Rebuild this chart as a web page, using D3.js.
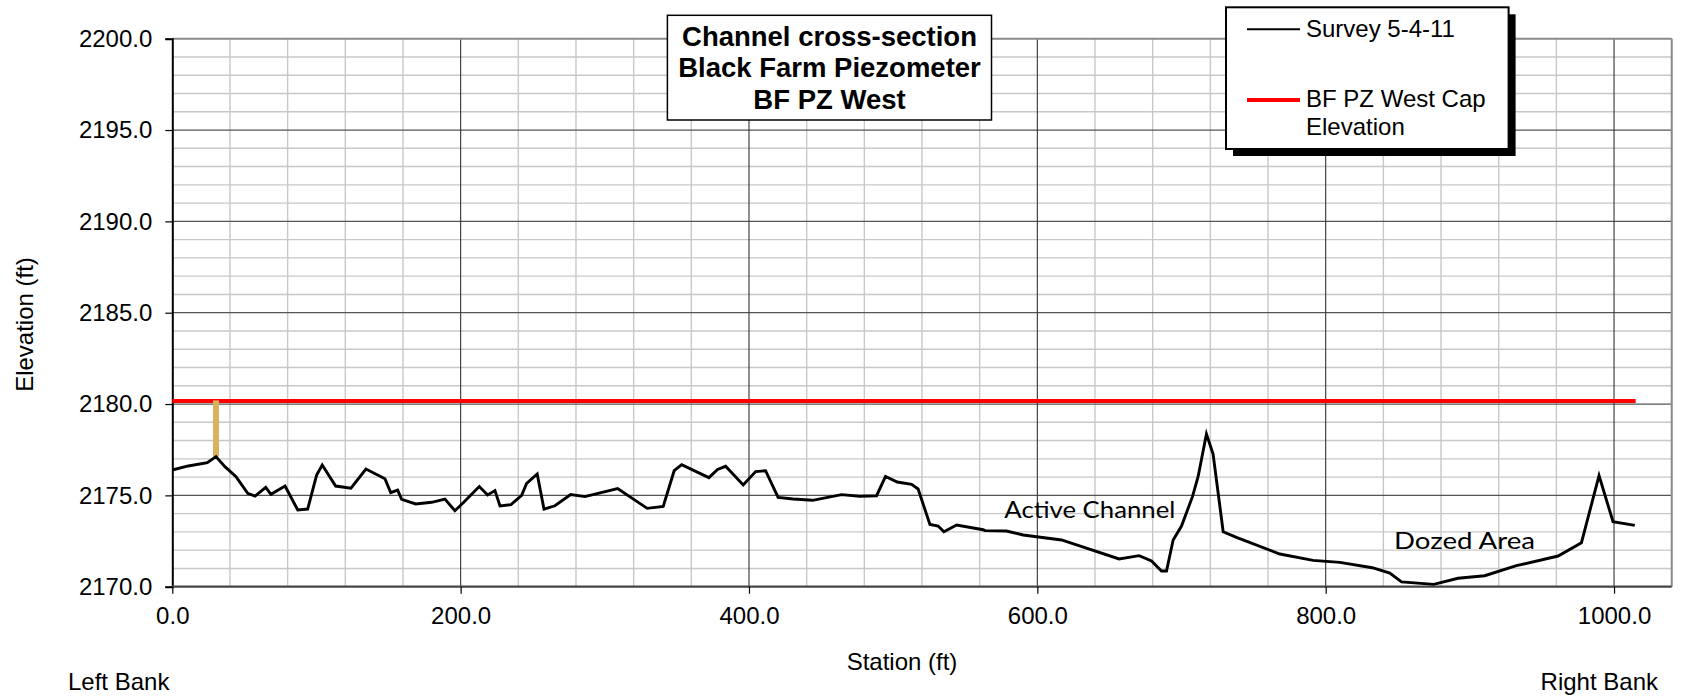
<!DOCTYPE html>
<html>
<head>
<meta charset="utf-8">
<script src="https://cdn.jsdelivr.net/npm/d3@7/dist/d3.min.js"></script>
<style>
  html, body { margin: 0; padding: 0; background: #ffffff; }
  svg { display: block; }
</style>
</head>
<body>
<svg id="chart" width="1687" height="698"></svg>
<script>
// ---------------- DATA ----------------
const stations = [
  0, 11.1, 24.3, 30.3, 36.5, 44.2, 52.3, 57.4, 64.8, 68.4, 78.2, 87.0, 93.9, 100.1, 104.0,
  113.3, 123.9, 134.3, 147.5, 151.5, 156.3, 159.1, 168.8, 179.9, 189.1, 196.0, 201.8, 212.9,
  218.7, 223.8, 227.3, 234.9, 242.3, 245.8, 253.1, 257.8, 265.4, 276.3, 286.2, 308.9, 329.4,
  340.5, 348.1, 353.3, 372.2, 378.2, 383.8, 396.0, 404.6, 411.5, 420.2, 430.7, 444.1, 464.2,
  476.9, 488.5, 494.7, 502.8, 512.8, 517.3, 525.5, 531.2, 535.2, 544.0, 562.4, 563.6, 578.6,
  590.2, 616.8, 656.7, 670.6, 679.2, 686.1, 689.6, 694.2, 700.0, 707.6, 711.5, 717.3, 721.9,
  728.9, 738.1, 768.2, 791.3, 809.8, 832.3, 844.5, 852.6, 875.0, 891.8, 910.3, 932.3, 961.2,
  977.4, 989.6, 999.3, 1014.4
];
const elevations = [
  2176.39, 2176.61, 2176.79, 2177.12, 2176.57, 2176.02, 2175.11, 2174.96, 2175.44, 2175.06,
  2175.51, 2174.20, 2174.25, 2176.11, 2176.66, 2175.51, 2175.39, 2176.44, 2175.91, 2175.15,
  2175.29, 2174.78, 2174.53, 2174.62, 2174.80, 2174.16, 2174.60, 2175.48, 2175.02, 2175.26,
  2174.42, 2174.49, 2175.00, 2175.66, 2176.17, 2174.25, 2174.43, 2175.04, 2174.93, 2175.37,
  2174.29, 2174.40, 2176.35, 2176.68, 2175.97, 2176.42, 2176.59, 2175.57, 2176.30, 2176.35,
  2174.89, 2174.80, 2174.73, 2175.04, 2174.95, 2174.98, 2176.04, 2175.73, 2175.60, 2175.35,
  2173.41, 2173.32, 2173.01, 2173.38, 2173.12, 2173.07, 2173.05, 2172.83, 2172.56, 2171.52,
  2171.70, 2171.41, 2170.86, 2170.86, 2172.56, 2173.32, 2174.93, 2176.02, 2178.36, 2177.26,
  2173.01, 2172.70, 2171.79, 2171.44, 2171.33, 2171.04, 2170.75, 2170.26, 2170.13, 2170.46,
  2170.60, 2171.15, 2171.68, 2172.41, 2176.08, 2173.56, 2173.36
];
const capStations = [0, 1015];
const capElevation = 2180.16;
const pzStation = 30.3;
const pzElevations = [2180.2, 2177.12];

const xTicks = [0, 200, 400, 600, 800, 1000];
const yTicks = [2170, 2175, 2180, 2185, 2190, 2195, 2200];
const xDomain = [0, 1040];
const yDomain = [2170, 2200];

const titleLines = ["Channel cross-section", "Black Farm Piezometer", "BF PZ West"];
const legendLabels = ["Survey 5-4-11", "BF PZ West Cap", "Elevation"];
const annotations = [
  { text: "Active Channel", station: 577.1, elev: 2173.76 },
  { text: "Dozed Area", station: 847.4, elev: 2172.06 }
];

// ---------------- LAYOUT ----------------
const L = 172.3, R = 1671.7, T = 38.7, B = 586.7;
const svg = d3.select("#chart");
const x = d3.scaleLinear().domain(xDomain).range([L, R]);
const y = d3.scaleLinear().domain(yDomain).range([B, T]);
const FONT = "'Liberation Sans', Arial, Helvetica, sans-serif";

// gridlines
const g = svg.append("g");
const xMinor = d3.range(xDomain[0], xDomain[1] + 0.1, 40);
const yMinor = d3.range(yDomain[0], yDomain[1] + 0.1, 1);
g.selectAll(".yminor").data(yMinor.filter(v => v % 5 !== 0)).join("line")
  .attr("x1", L).attr("x2", R).attr("y1", d => y(d)).attr("y2", d => y(d))
  .attr("stroke", "#c8c8c8").attr("stroke-width", 1.4);
g.selectAll(".xminor").data(xMinor.filter(v => v % 200 !== 0)).join("line")
  .attr("x1", d => x(d)).attr("x2", d => x(d)).attr("y1", T).attr("y2", B)
  .attr("stroke", "#c8c8c8").attr("stroke-width", 1.4);
g.selectAll(".ymajor").data(yTicks.slice(1, -1)).join("line")
  .attr("x1", L).attr("x2", R).attr("y1", d => y(d)).attr("y2", d => y(d))
  .attr("stroke", "#555555").attr("stroke-width", 1.2);
g.selectAll(".xmajor").data(xTicks.slice(1)).join("line")
  .attr("x1", d => x(d)).attr("x2", d => x(d)).attr("y1", T).attr("y2", B)
  .attr("stroke", "#333333").attr("stroke-width", 1.1);

// frame
svg.append("line").attr("x1", L).attr("x2", R).attr("y1", T).attr("y2", T)
  .attr("stroke", "#8a8a8a").attr("stroke-width", 2);
svg.append("line").attr("x1", R).attr("x2", R).attr("y1", T).attr("y2", B)
  .attr("stroke", "#8a8a8a").attr("stroke-width", 2);

// axes
const yAxis = d3.axisLeft(y).tickValues(yTicks).tickSize(7).tickPadding(13)
  .tickFormat(d3.format(".1f"));
const yg = svg.append("g").attr("transform", `translate(${L},0)`).call(yAxis);
yg.select(".domain").attr("stroke", "#000").attr("stroke-width", 2);
yg.selectAll(".tick line").attr("stroke", "#000").attr("stroke-width", 1.2);
yg.selectAll(".tick text").attr("font-family", FONT).attr("font-size", 24).attr("fill", "#000")
  .attr("dy", "0.33em");

const xAxis = d3.axisBottom(x).tickValues(xTicks).tickSize(7).tickPadding(13)
  .tickFormat(d3.format(".1f"));
const xg = svg.append("g").attr("transform", `translate(0,${B})`).call(xAxis);
xg.select(".domain").attr("d", `M${L},0H${R}`).attr("stroke", "#444").attr("stroke-width", 2.2);
xg.selectAll(".tick line").attr("stroke", "#000").attr("stroke-width", 1.2);
xg.selectAll(".tick text").attr("font-family", FONT).attr("font-size", 24).attr("fill", "#000")
  .attr("dy", "0.71em");

// axis titles
svg.append("text").attr("x", 902).attr("y", 670).attr("text-anchor", "middle")
  .attr("font-family", FONT).attr("font-size", 24).text("Station (ft)");
svg.append("text").attr("transform", "translate(33,324.5) rotate(-90)").attr("text-anchor", "middle")
  .attr("font-family", FONT).attr("font-size", 24).text("Elevation (ft)");
svg.append("text").attr("x", 68).attr("y", 690)
  .attr("font-family", FONT).attr("font-size", 24).text("Left Bank");
svg.append("text").attr("x", 1658).attr("y", 690).attr("text-anchor", "end")
  .attr("font-family", FONT).attr("font-size", 24).text("Right Bank");

// series
const pts = stations.map((s, i) => [s, elevations[i]]);
const line = d3.line().x(d => x(d[0])).y(d => y(d[1]));
svg.append("path").datum(capStations.map(s => [s, capElevation])).attr("d", line)
  .attr("fill", "none").attr("stroke", "#ff0000").attr("stroke-width", 4);
svg.append("path").datum(pzElevations.map(e => [pzStation, e])).attr("d", line)
  .attr("fill", "none").attr("stroke", "#d8b25c").attr("stroke-width", 6);
svg.append("path").datum(pts).attr("d", line)
  .attr("fill", "none").attr("stroke", "#000").attr("stroke-width", 2.9)
  .attr("stroke-linejoin", "miter");

// annotations
svg.selectAll(".ann").data(annotations).join("text")
  .attr("x", d => x(d.station)).attr("y", d => y(d.elev))
  .attr("font-family", "Lato, 'DejaVu Sans', sans-serif").attr("font-size", 23)
  .attr("textLength", d => d.text === "Active Channel" ? 171 : 141)
  .attr("lengthAdjust", "spacingAndGlyphs")
  .attr("fill", "#000").text(d => d.text);

// title box
svg.append("rect").attr("x", 667.4).attr("y", 15.3).attr("width", 324.1).attr("height", 104.7)
  .attr("fill", "#fff").attr("stroke", "#000").attr("stroke-width", 1.5);
svg.selectAll(".title").data(titleLines).join("text")
  .attr("x", 829.5).attr("y", (d, i) => 45.7 + i * 31.7).attr("text-anchor", "middle")
  .attr("font-family", FONT).attr("font-weight", "bold").attr("font-size", 27.5)
  .attr("fill", "#000").text(d => d);

// legend
const lg = svg.append("g");
lg.append("rect").attr("x", 1233).attr("y", 14.3).attr("width", 282.6).attr("height", 141.7)
  .attr("fill", "#000");
lg.append("rect").attr("x", 1226).attr("y", 7.3).attr("width", 282.6).attr("height", 141.7)
  .attr("fill", "#fff").attr("stroke", "#000").attr("stroke-width", 2);
lg.append("line").attr("x1", 1247).attr("x2", 1300).attr("y1", 29.3).attr("y2", 29.3)
  .attr("stroke", "#000").attr("stroke-width", 2);
lg.append("line").attr("x1", 1247).attr("x2", 1300).attr("y1", 100).attr("y2", 100)
  .attr("stroke", "#ff0000").attr("stroke-width", 4);
const legY = [37, 107.3, 135];
lg.selectAll(".lt").data(legendLabels).join("text")
  .attr("x", 1306).attr("y", (d, i) => legY[i])
  .attr("font-family", FONT).attr("font-size", 24).attr("fill", "#000").text(d => d);
</script>
</body>
</html>
